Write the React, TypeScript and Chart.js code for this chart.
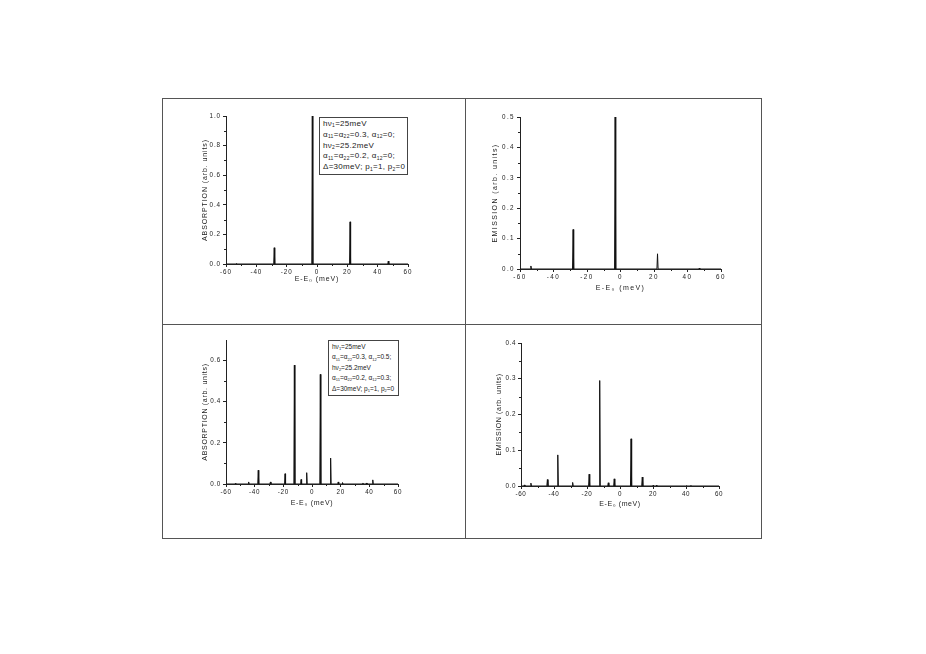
import React, { useEffect, useRef } from 'react';
import { Chart, registerables } from 'chart.js';

Chart.register(...registerables);

// ---------- data ----------
const X_TICKS = [-60, -40, -20, 0, 20, 40, 60];
const X_MINOR = [-50, -30, -10, 10, 30, 50];

// Panel 1: absorption, alpha12 = 0
const ABS1_POS = [-53, -28.2, -3.1, 21.8, 47];
const ABS1_H = [0.004, 0.11, 1.0, 0.285, 0.02];
const ABS1_YTICKS = [0, 0.2, 0.4, 0.6, 0.8, 1.0];
const ABS1_YMINOR = [0.1, 0.3, 0.5, 0.7, 0.9];

// Panel 2: emission, alpha12 = 0
const EM1_POS = [-53.5, -28.3, -3.2, 22.1, 47];
const EM1_H = [0.01, 0.13, 0.5, 0.05, 0.003];
const EM1_YTICKS = [0, 0.1, 0.2, 0.3, 0.4, 0.5];
const EM1_YMINOR = [0.05, 0.15, 0.25, 0.35, 0.45];

// Panel 3: absorption, alpha12 != 0
const ABS2_POS = [-53.5, -44.2, -37.5, -29, -18.8, -12.3, -7.6, -3.7, 5.8, 13, 18.3, 21.3, 35.5, 38, 42.4];
const ABS2_H = [0.003, 0.01, 0.067, 0.01, 0.05, 0.578, 0.022, 0.055, 0.533, 0.126, 0.01, 0.007, 0.005, 0.005, 0.02];
const ABS2_YTICKS = [0, 0.2, 0.4, 0.6];
const ABS2_YMINOR = [0.1, 0.3, 0.5];

// Panel 4: emission, alpha12 != 0
const EM2_POS = [-58, -54, -44, -37.7, -28.7, -18.7, -12.3, -7.1, -3.5, 6.7, 13.5, 20, 22, 40, 43];
const EM2_H = [0.003, 0.008, 0.018, 0.087, 0.01, 0.033, 0.295, 0.009, 0.02, 0.132, 0.025, 0.002, 0.002, 0.001, 0.002];
const EM2_YTICKS = [0, 0.1, 0.2, 0.3, 0.4];
const EM2_YMINOR = [0.05, 0.15, 0.25, 0.35];

const X_TITLE = 'E-E\u2080 (meV)';

function buildLine(pos: number[], h: number[]) {
  const half = 0.35;
  const pts: { x: number; y: number }[] = [{ x: -60, y: 0 }];
  pos.forEach((p, i) => {
    pts.push({ x: p - half, y: 0 });
    pts.push({ x: p, y: h[i] });
    pts.push({ x: p + half, y: 0 });
  });
  pts.push({ x: 60, y: 0 });
  return pts;
}

type Area = { l: number; r: number; t: number; b: number };
type PanelProps = {
  cx: number; cy: number; cw: number; ch: number;
  area: Area;
  yMax: number;
  yTicks: number[];
  yMinor: number[];
  yTitle: string;
  yTitleX: number;
  xTitleY: number;
  ls: number;
  pos: number[];
  h: number[];
};

const INK = '#222';
const FONT = 'Liberation Sans, Arial, sans-serif';

function Panel(p: PanelProps) {
  const ref = useRef<HTMLCanvasElement>(null);
  useEffect(() => {
    const titleSize = 7;
    const lineH = titleSize * 1.2;
    const padLeft = p.yTitleX - p.cx - lineH / 2;
    const yWidth = p.area.l - p.cx - padLeft;
    const xBottom = p.xTitleY + lineH / 2;
    const xHeight = xBottom - p.area.b;
    const padBottom = p.cy + p.ch - xBottom;

    const spacing = {
      id: 'spacing',
      beforeDraw(chart: any) {
        chart.ctx.letterSpacing = p.ls + 'px';
      },
    };
    const minor = {
      id: 'minorTicks',
      afterDraw(chart: any) {
        const { ctx, chartArea, scales } = chart;
        ctx.save();
        ctx.strokeStyle = INK;
        ctx.lineWidth = 1;
        ctx.beginPath();
        X_MINOR.forEach((v) => {
          const px = Math.round(scales.x.getPixelForValue(v)) + 0.5;
          ctx.moveTo(px, chartArea.bottom);
          ctx.lineTo(px, chartArea.bottom + 2);
        });
        p.yMinor.forEach((v) => {
          const py = Math.round(scales.y.getPixelForValue(v)) + 0.5;
          ctx.moveTo(chartArea.left, py);
          ctx.lineTo(chartArea.left - 2, py);
        });
        ctx.stroke();
        ctx.restore();
      },
    };

    const chart = new Chart(ref.current as HTMLCanvasElement, {
      type: 'line',
      data: {
        datasets: [
          {
            data: buildLine(p.pos, p.h),
            borderColor: '#111',
            borderWidth: 1,
            pointRadius: 0,
            tension: 0,
            fill: false,
          },
        ],
      },
      options: {
        animation: false,
        responsive: false,
        devicePixelRatio: 1,
        layout: {
          padding: {
            left: padLeft,
            top: p.area.t - p.cy,
            right: p.cx + p.cw - p.area.r,
            bottom: padBottom,
          },
        },
        plugins: { legend: { display: false }, tooltip: { enabled: false } },
        scales: {
          x: {
            type: 'linear',
            min: -60,
            max: 60,
            afterBuildTicks: (s: any) => {
              s.ticks = X_TICKS.map((v) => ({ value: v }));
            },
            afterFit: (s: any) => {
              s.height = xHeight;
            },
            ticks: {
              font: { family: FONT, size: 6.3 },
              color: INK,
              padding: 1,
              maxRotation: 0,
              callback: (v: any) => String(v),
            },
            grid: { drawOnChartArea: false, tickLength: 3, color: INK, tickColor: INK },
            border: { color: INK, width: 1 },
            title: {
              display: true,
              text: X_TITLE,
              color: INK,
              padding: 0,
              font: { family: FONT, size: titleSize },
            },
          },
          y: {
            type: 'linear',
            min: 0,
            max: p.yMax,
            afterBuildTicks: (s: any) => {
              s.ticks = p.yTicks.map((v) => ({ value: v }));
            },
            afterFit: (s: any) => {
              s.width = yWidth;
            },
            ticks: {
              font: { family: FONT, size: 6.3 },
              color: INK,
              padding: 2,
              callback: (v: any) => Number(v).toFixed(1),
            },
            grid: { drawOnChartArea: false, tickLength: 3, color: INK, tickColor: INK },
            border: { color: INK, width: 1 },
            title: {
              display: true,
              text: p.yTitle,
              color: INK,
              padding: 0,
              font: { family: FONT, size: titleSize },
            },
          },
        },
      },
      plugins: [spacing, minor],
    } as any);
    return () => chart.destroy();
  }, []);
  return (
    <canvas
      ref={ref}
      width={p.cw}
      height={p.ch}
      style={{ position: 'absolute', left: p.cx, top: p.cy, width: p.cw, height: p.ch }}
    />
  );
}

const subStyle: React.CSSProperties = { fontSize: '0.62em', verticalAlign: 'baseline', position: 'relative', top: '0.3em', lineHeight: 0 };

function Legend({ left, top, width, height, fontSize, ls, a12a, a12b }: { left: number; top: number; width: number; height: number; fontSize: number; ls: number; a12a: string; a12b: string }) {
  const S = (t: string) => <sub style={subStyle}>{t}</sub>;
  return (
    <div
      style={{
        position: 'absolute',
        left,
        top,
        width,
        height,
        boxSizing: 'border-box',
        border: '1px solid #444',
        background: '#fff',
        fontFamily: FONT,
        fontSize,
        letterSpacing: ls,
        lineHeight: (height - 4) / 5 + 'px',
        color: INK,
        padding: '1px 0 0 3px',
        whiteSpace: 'nowrap',
        overflow: 'hidden',
        WebkitFontSmoothing: 'antialiased',
      }}
    >
      <div>hν{S('1')}=25meV</div>
      <div>α{S('11')}=α{S('22')}=0.3, α{S('12')}={a12a};</div>
      <div>hν{S('2')}=25.2meV</div>
      <div>α{S('11')}=α{S('22')}=0.2, α{S('12')}={a12b};</div>
      <div>Δ=30meV; p{S('1')}=1, p{S('2')}=0</div>
    </div>
  );
}

export default function App() {
  const line = '#555';
  return (
    <div style={{ position: 'absolute', left: 0, top: 0, width: 926, height: 654, background: '#fff', overflow: 'hidden' }}>
      {/* frame */}
      <div style={{ position: 'absolute', left: 162, top: 98, width: 600, height: 441, boxSizing: 'border-box', border: `1px solid ${line}` }} />
      <div style={{ position: 'absolute', left: 465, top: 98, width: 1, height: 441, background: line }} />
      <div style={{ position: 'absolute', left: 162, top: 324, width: 600, height: 1, background: line }} />

      <Panel
        cx={163} cy={99} cw={301} ch={224}
        area={{ l: 226, r: 408, t: 116, b: 264 }}
        yMax={1} yTicks={ABS1_YTICKS} yMinor={ABS1_YMINOR}
        yTitle="ABSORPTION (arb. units)" yTitleX={205} xTitleY={279} ls={0.9}
        pos={ABS1_POS} h={ABS1_H}
      />
      <Panel
        cx={466} cy={99} cw={295} ch={224}
        area={{ l: 520, r: 721, t: 117, b: 269 }}
        yMax={0.5} yTicks={EM1_YTICKS} yMinor={EM1_YMINOR}
        yTitle="EMISSION (arb. units)" yTitleX={495} xTitleY={288} ls={1.4}
        pos={EM1_POS} h={EM1_H}
      />
      <Panel
        cx={163} cy={325} cw={301} ch={213}
        area={{ l: 226, r: 398, t: 340, b: 484 }}
        yMax={0.7} yTicks={ABS2_YTICKS} yMinor={ABS2_YMINOR}
        yTitle="ABSORPTION (arb. units)" yTitleX={205} xTitleY={503} ls={0.7}
        pos={ABS2_POS} h={ABS2_H}
      />
      <Panel
        cx={466} cy={325} cw={295} ch={213}
        area={{ l: 521, r: 719, t: 343, b: 486 }}
        yMax={0.4} yTicks={EM2_YTICKS} yMinor={EM2_YMINOR}
        yTitle="EMISSION (arb. units)" yTitleX={499} xTitleY={504} ls={0.6}
        pos={EM2_POS} h={EM2_H}
      />

      <Legend left={319} top={117} width={89} height={58} fontSize={8} ls={0.3} a12a="0" a12b="0" />
      <Legend left={328} top={340} width={71} height={56} fontSize={6.5} ls={0} a12a="0.5" a12b="0.3" />
    </div>
  );
}
